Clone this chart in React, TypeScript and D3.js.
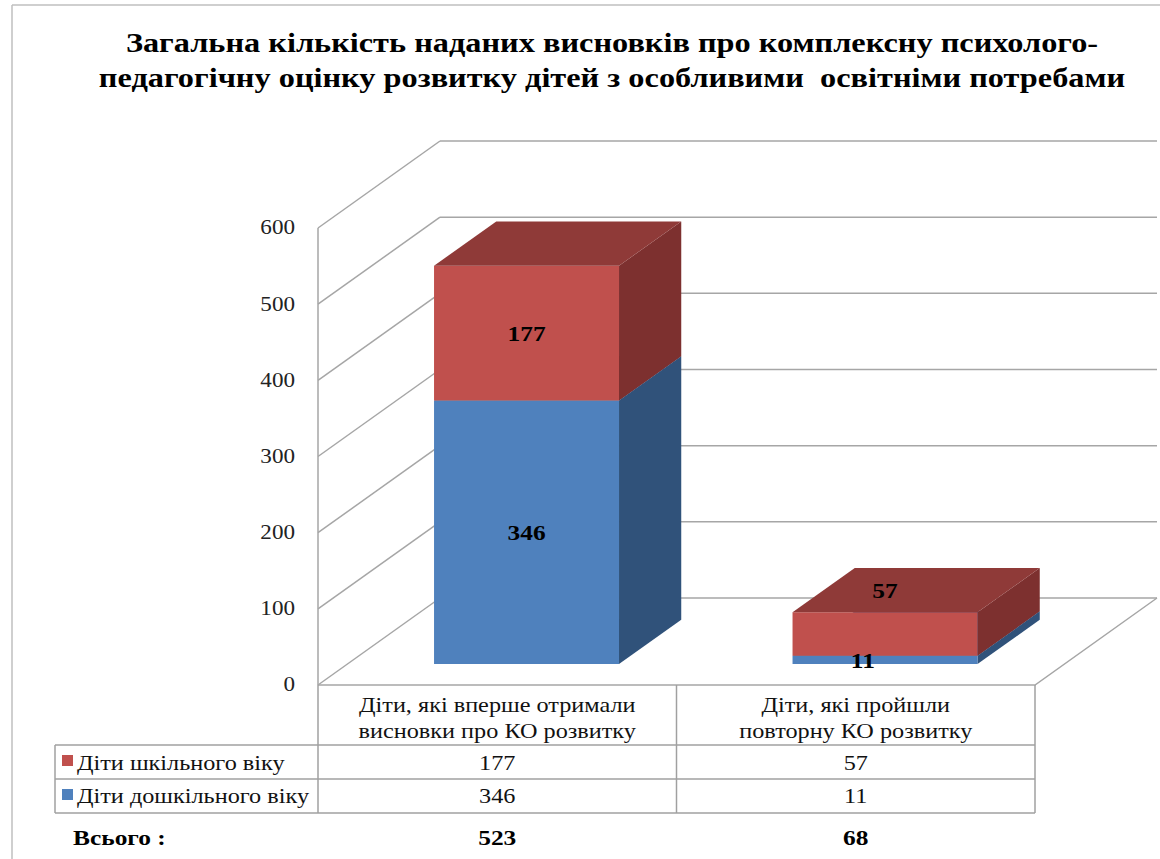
import React from "react";
import * as d3 from "d3";

const categories = ["first", "repeat"];
const categoryLines = [
  ["Діти, які вперше отримали", "висновки про КО розвитку"],
  ["Діти, які пройшли", "повторну КО розвитку"],
];
const seriesNames = ["Діти дошкільного віку", "Діти шкільного віку"];
const preschool = [346, 11];
const school = [177, 57];
const totals = [523, 68];
const totalLabel = "Всього :";
const yTicks = [0, 100, 200, 300, 400, 500, 600];
const titleLines = [
  "Загальна кількість наданих висновків про комплексну психолого-",
  "педагогічну оцінку розвитку дітей з особливими  освітніми потребами",
];

const W = 1160;
const H = 859;
const FRONT_LEFT = 318;
const FRONT_RIGHT = 1035;
const DX = 122;
const DY = 87;
const BAR_D0 = 0.24;
const BAR_D1 = 0.75;
const BAR_W = 0.516;
const SX = 1.155;

const FONT = "Liberation Serif";

const colors = [
  { front: "#4F81BD", side: "#30527A", top: "#3D6696" },
  { front: "#C0504D", side: "#7D302F", top: "#8F3A38" },
];

type TProps = {
  x: number;
  y: number;
  size: number;
  anchor?: "start" | "middle" | "end";
  bold?: boolean;
  fill?: string;
  dy?: string;
  children: React.ReactNode;
};

function T({ x, y, size, anchor = "start", bold = false, fill = "#111", dy, children }: TProps) {
  return (
    <text
      transform={`translate(${x},${y}) scale(${SX},1)`}
      dy={dy}
      textAnchor={anchor}
      fontFamily={FONT}
      fontWeight={bold ? "bold" : "normal"}
      fontSize={size}
      fill={fill}
      style={{ whiteSpace: "pre" }}
    >
      {children}
    </text>
  );
}

export default function App() {
  const x = d3.scaleBand<string>().domain(categories).range([FRONT_LEFT, FRONT_RIGHT]).paddingInner(0).paddingOuter(0);
  const y = d3.scaleLinear().domain([0, 600]).range([685, 228]);
  const proj = (xf: number, v: number, d: number): [number, number] => [xf + d * DX, y(v) - d * DY];
  const poly = (pts: [number, number][]) => pts.map((p) => p.join(",")).join(" ");

  const stack = d3.stack<number>().keys(["0", "1"]).value((i, k) => (k === "0" ? preschool[i] : school[i]));
  const stacked = stack(d3.range(categories.length));

  const grid = "#A6A6A6";
  const tableLine = "#A0A0A0";

  const bars: React.ReactNode[] = [];
  const labels: React.ReactNode[] = [];
  categories.forEach((c, ci) => {
    const bw = x.bandwidth() * BAR_W;
    const xl = (x(c) as number) + (x.bandwidth() - bw) / 2;
    const xr = xl + bw;
    const total = totals[ci];
    stacked.forEach((s, si) => {
      const [v0, v1] = s[ci];
      const col = colors[si];
      const fl0 = proj(xl, v0, BAR_D0);
      const fr0 = proj(xr, v0, BAR_D0);
      const fr1 = proj(xr, v1, BAR_D0);
      const fl1 = proj(xl, v1, BAR_D0);
      const br0 = proj(xr, v0, BAR_D1);
      const br1 = proj(xr, v1, BAR_D1);
      const bl1 = proj(xl, v1, BAR_D1);
      bars.push(
        <g key={`${ci}-${si}`}>
          <polygon points={poly([fr0, br0, br1, fr1])} fill={col.side} />
          <polygon points={poly([fl0, fr0, fr1, fl1])} fill={col.front} />
          <polygon points={poly([fl1, fr1, br1, bl1])} fill={col.top} />
        </g>
      );
      const segH = fl0[1] - fl1[1];
      const cx = (fl0[0] + fr0[0]) / 2;
      let ly = (fl0[1] + fl1[1]) / 2;
      let lx = cx;
      const thinBar = y(0) - y(total) < 60;
      if (thinBar && si === 1) {
        ly = (fl1[1] + bl1[1]) / 2;
      } else if (segH < 20) {
        lx = cx - bw * 0.12;
      }
      labels.push(
        <T key={`l${ci}-${si}`} x={lx} y={ly} dy="0.35em" anchor="middle" bold size={22} fill="#000">
          {si === 0 ? preschool[ci] : school[ci]}
        </T>
      );
    });
  });

  const tTop = y(0);
  const rowH = [745, 779, 813];
  const legendLeft = 55;
  const legendOrder = [1, 0];

  return (
    <svg width={W} height={H} style={{ position: "absolute", left: 0, top: 0 }}>
      <rect x={0} y={0} width={W} height={H} fill="#fff" />
      <line x1={12} y1={5} x2={W} y2={5} stroke="#BFBFBF" strokeWidth={1.5} />
      <line x1={12} y1={5} x2={12} y2={H} stroke="#BFBFBF" strokeWidth={1.5} />

      {titleLines.map((t, i) => (
        <T key={i} x={612} y={52 + i * 35} anchor="middle" bold size={28} fill="#000">
          {t}
        </T>
      ))}

      {yTicks.map((v) => {
        const a = proj(FRONT_LEFT, v, 1);
        const b = proj(FRONT_RIGHT, v, 1);
        const f = proj(FRONT_LEFT, v, 0);
        return (
          <g key={v}>
            <line x1={a[0]} y1={a[1]} x2={b[0]} y2={b[1]} stroke={grid} strokeWidth={1.5} />
            <line x1={f[0]} y1={f[1]} x2={a[0]} y2={a[1]} stroke={grid} strokeWidth={1.5} />
            <T x={295} y={f[1]} dy="0.32em" anchor="end" size={20} fill="#222">
              {v}
            </T>
          </g>
        );
      })}
      <line x1={FRONT_LEFT} y1={y(0)} x2={FRONT_LEFT} y2={y(600)} stroke={grid} strokeWidth={1.5} />
      <polyline points={poly([proj(FRONT_LEFT, 0, 0), proj(FRONT_RIGHT, 0, 0), proj(FRONT_RIGHT, 0, 1)])} fill="none" stroke={grid} strokeWidth={1.5} />

      {bars}
      {labels}

      {rowH.map((ry) => (
        <line key={ry} x1={legendLeft} y1={ry} x2={FRONT_RIGHT} y2={ry} stroke={tableLine} strokeWidth={1.5} />
      ))}
      <line x1={legendLeft} y1={rowH[0]} x2={legendLeft} y2={rowH[2]} stroke={tableLine} strokeWidth={1.5} />
      {[FRONT_LEFT, ...categories.map((c) => (x(c) as number) + x.bandwidth())].map((lx) => (
        <line key={lx} x1={lx} y1={tTop} x2={lx} y2={rowH[2]} stroke={tableLine} strokeWidth={1.5} />
      ))}
      {categories.map((c, ci) => {
        const cx = (x(c) as number) + x.bandwidth() / 2;
        return (
          <g key={c}>
            {categoryLines[ci].map((ln, li) => (
              <T key={li} x={cx} y={712 + li * 26} anchor="middle" size={21}>
                {ln}
              </T>
            ))}
            {legendOrder.map((si, ri) => (
              <T key={si} x={cx} y={770 + ri * 33} anchor="middle" size={21}>
                {si === 0 ? preschool[ci] : school[ci]}
              </T>
            ))}
            <T x={cx} y={845} anchor="middle" bold size={22} fill="#000">
              {totals[ci]}
            </T>
          </g>
        );
      })}
      {legendOrder.map((si, ri) => (
        <g key={si}>
          <rect x={62} y={755 + ri * 34} width={11} height={11} fill={colors[si].front} />
          <T x={77} y={770 + ri * 33} size={21}>
            {seriesNames[si]}
          </T>
        </g>
      ))}
      <T x={73} y={845} bold size={22} fill="#000">
        {totalLabel}
      </T>
    </svg>
  );
}
